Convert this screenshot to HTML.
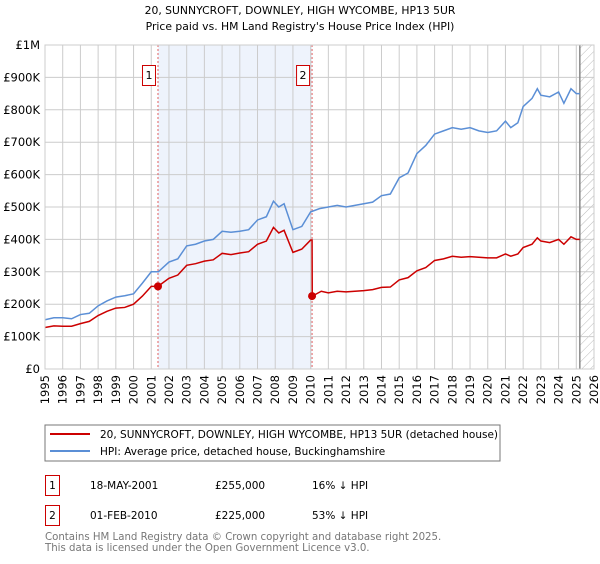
<!DOCTYPE html>
<html><head><meta charset="utf-8"><style>
body{margin:0;background:#fff;width:600px;height:560px;overflow:hidden;font-family:"DejaVu Sans","Liberation Sans",sans-serif}
svg text{font-family:"DejaVu Sans","Liberation Sans",sans-serif}
</style></head><body>
<svg id="chart" width="600" height="560">
<defs><pattern id="hatch" width="6" height="6" patternUnits="userSpaceOnUse" patternTransform="rotate(45)"><line x1="0" y1="0" x2="0" y2="6" stroke="#bbb" stroke-width="1"/></pattern></defs>
<text x="300" y="14" text-anchor="middle" font-size="10.8">20, SUNNYCROFT, DOWNLEY, HIGH WYCOMBE, HP13 5UR</text>
<text x="300" y="30" text-anchor="middle" font-size="10.8">Price paid vs. HM Land Registry's House Price Index (HPI)</text>
<g id="bg"></g><g id="grid"></g><g id="series"></g><g id="axes"></g>
<rect x="45" y="425" width="455" height="36" fill="none" stroke="#777"/>
<line x1="50" y1="434" x2="90" y2="434" stroke="#cc0000" stroke-width="2"/>
<text x="100" y="438" font-size="10.5">20, SUNNYCROFT, DOWNLEY, HIGH WYCOMBE, HP13 5UR (detached house)</text>
<line x1="50" y1="451" x2="90" y2="451" stroke="#5b8fd6" stroke-width="2"/>
<text x="100" y="455" font-size="10.5">HPI: Average price, detached house, Buckinghamshire</text>
<g>
<rect x="45.5" y="475.5" width="14" height="20" fill="none" stroke="#cc0000"/>
<text x="52.5" y="489" font-size="10.5" text-anchor="middle">1</text>
<text x="90" y="489" font-size="10.5">18-MAY-2001</text>
<text x="215" y="489" font-size="10.5">£255,000</text>
<text x="312" y="489" font-size="10.5">16% ↓ HPI</text></g>
<g>
<rect x="45.5" y="505.5" width="14" height="20" fill="none" stroke="#cc0000"/>
<text x="52.5" y="519" font-size="10.5" text-anchor="middle">2</text>
<text x="90" y="519" font-size="10.5">01-FEB-2010</text>
<text x="215" y="519" font-size="10.5">£225,000</text>
<text x="312" y="519" font-size="10.5">53% ↓ HPI</text></g>
<text x="45" y="540" font-size="10.2" fill="#777">Contains HM Land Registry data © Crown copyright and database right 2025.</text>
<text x="45" y="551" font-size="10.2" fill="#777">This data is licensed under the Open Government Licence v3.0.</text>
</svg>
<script>
const hpiYears=[1995,1995.5,1996,1996.5,1997,1997.5,1998,1998.5,1999,1999.5,2000,2000.5,2001,2001.4,2002,2002.5,2003,2003.5,2004,2004.5,2005,2005.5,2006,2006.5,2007,2007.5,2007.9,2008.2,2008.5,2009,2009.5,2010,2010.5,2011,2011.5,2012,2013,2013.5,2014,2014.5,2015,2015.5,2016,2016.5,2017,2017.5,2018,2018.5,2019,2019.5,2020,2020.5,2021,2021.3,2021.7,2022,2022.5,2022.8,2023,2023.5,2024,2024.3,2024.7,2025,2025.2];
const hpiValues=[152,158,158,155,168,172,195,210,222,226,232,265,300,300,330,340,380,385,395,400,425,422,425,430,460,470,518,500,510,430,440,485,495,500,505,500,510,515,535,540,590,605,665,690,725,735,745,740,745,735,730,735,765,745,760,810,835,865,845,840,855,820,865,850,850];
const ppYears=[1995,1995.5,1996,1996.5,1997,1997.5,1998,1998.5,1999,1999.5,2000,2000.5,2001,2001.38,2002,2002.5,2003,2003.5,2004,2004.5,2005,2005.5,2006,2006.5,2007,2007.5,2007.9,2008.2,2008.5,2009,2009.5,2010,2010.08,2010.09,2010.6,2011,2011.5,2012,2013,2013.5,2014,2014.5,2015,2015.5,2016,2016.5,2017,2017.5,2018,2018.5,2019,2019.5,2020,2020.5,2021,2021.3,2021.7,2022,2022.5,2022.8,2023,2023.5,2024,2024.3,2024.7,2025,2025.2];
const ppValues=[128,133,132,132,140,147,165,178,188,190,200,225,255,255,280,290,320,325,333,337,357,353,358,362,385,395,437,420,428,360,370,398,398,225,240,235,240,238,242,245,252,253,275,282,303,313,335,340,348,345,347,345,343,343,355,348,355,375,385,405,395,390,400,385,408,400,400];
const saleYears=[2001.38,2010.08];
const saleValues=[255,225];
const saleLabels=["1","2"];
const yTicks=[0,100,200,300,400,500,600,700,800,900,1000];
const yTickLabels=["£0","£100K","£200K","£300K","£400K","£500K","£600K","£700K","£800K","£900K","£1M"];
const xTicks=[1995,1996,1997,1998,1999,2000,2001,2002,2003,2004,2005,2006,2007,2008,2009,2010,2011,2012,2013,2014,2015,2016,2017,2018,2019,2020,2021,2022,2023,2024,2025,2026];
const X0=45,X1=594,Y0=369,Y1=45;
const xs=y=>X0+(y-1995)/31*(X1-X0);
const ys=v=>Y0-v/1000*(Y0-Y1);
const NS="http://www.w3.org/2000/svg";
function mk(tag,attrs,parent){const e=document.createElementNS(NS,tag);for(const k in attrs)e.setAttribute(k,attrs[k]);document.getElementById(parent).appendChild(e);return e;}
let e;
e=mk('rect',{x:X0,y:Y1,width:X1-X0,height:Y0-Y1,fill:'#fff'},'bg');


e=mk('rect',{x:xs(saleYears[0]),y:Y1,width:xs(saleYears[1])-xs(saleYears[0]),height:Y0-Y1,fill:'#eef3fc'},'bg');


e=mk('rect',{x:xs(2025.2),y:Y1,width:X1-xs(2025.2),height:Y0-Y1,fill:'url(#hatch)'},'bg');


yTicks.forEach((t,i)=>{
 e=mk('line',{x1:X0,x2:X1,y1:ys(t),y2:ys(t),stroke:'#ccc'},'grid');
 
 
 e=mk('text',{x:40,y:ys(t)+4,'text-anchor':'end','font-size':'11.5'},'axes');
 e.textContent=yTickLabels[i];
 
 
});
xTicks.forEach(t=>{
 e=mk('line',{x1:xs(t),x2:xs(t),y1:Y1,y2:Y0,stroke:'#ccc'},'grid');
 
 
 e=mk('text',{x:0,y:0,'font-size':'11.5','text-anchor':'end',transform:`translate(${xs(t)+4},${Y0+6}) rotate(-90)`},'axes');
 e.textContent=t;
 
 
});
e=mk('line',{x1:xs(2025.2),x2:xs(2025.2),y1:Y1,y2:Y0,stroke:'#888','stroke-width':1.5},'grid');


saleYears.forEach((y,i)=>{
 e=mk('line',{x1:xs(y),x2:xs(y),y1:Y1,y2:Y0,stroke:'#e06060','stroke-dasharray':'2,2'},'grid');
 
 
 e=mk('rect',{x:xs(y)-15.5,y:65.5,width:13,height:20,fill:'#fff',stroke:'#cc0000'},'grid');
 
 
 e=mk('text',{x:xs(y)-9,y:79,'font-size':'11','text-anchor':'middle'},'grid');
 e.textContent=saleLabels[i];
 
 
});
e=mk('rect',{x:X0,y:Y1,width:X1-X0,height:Y0-Y1,fill:'none',stroke:'#ccc'},'axes');


e=mk('polyline',{points:hpiYears.map((y,i)=>xs(y)+','+ys(hpiValues[i])).join(' '),fill:'none',stroke:'#5b8fd6','stroke-width':1.5},'series');


e=mk('polyline',{points:ppYears.map((y,i)=>xs(y)+','+ys(ppValues[i])).join(' '),fill:'none',stroke:'#cc0000','stroke-width':1.5},'series');


saleYears.forEach((y,i)=>{
 e=mk('circle',{cx:xs(y),cy:ys(saleValues[i]),r:4,fill:'#cc0000'},'series');
 
 
});
</script>
</body></html>
